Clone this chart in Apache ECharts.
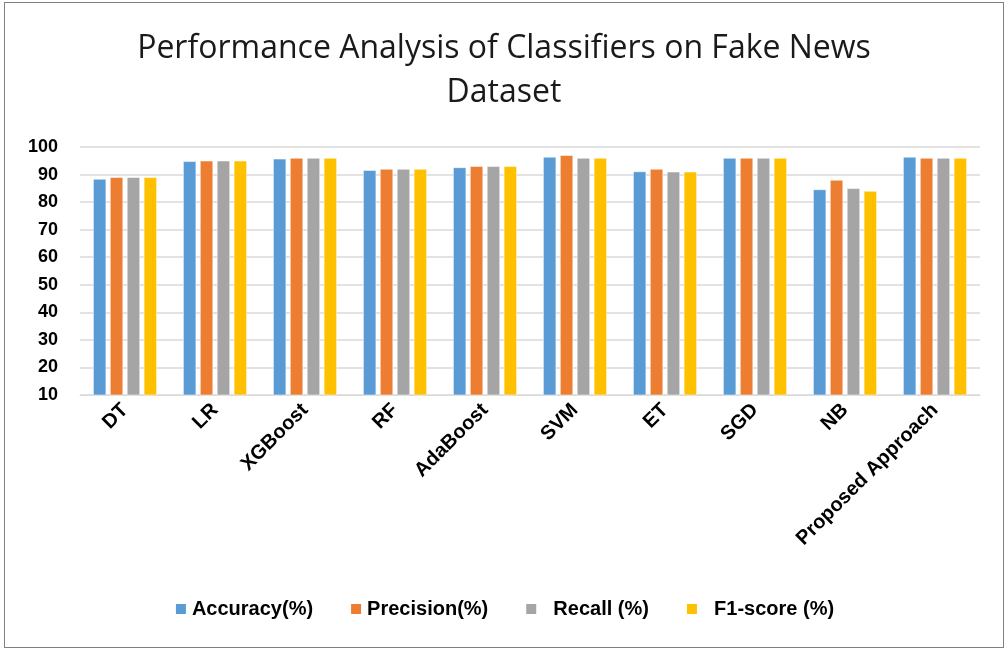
<!DOCTYPE html>
<html>
<head>
<meta charset="utf-8">
<script src="https://cdn.jsdelivr.net/npm/echarts@6/dist/echarts.min.js"></script>
<style>
  html, body { margin: 0; padding: 0; background: #fff; }
  #frame { position: absolute; left: 4px; top: 2px; width: 998px; height: 644px; border: 1px solid #7f7f7f; }
  #chart { width: 1008px; height: 650px; position: absolute; left: 0; top: 0; }
</style>
</head>
<body>
<div id="frame"></div>
<div id="chart"></div>
<script>
  var categories = ['DT', 'LR', 'XGBoost', 'RF', 'AdaBoost', 'SVM', 'ET', 'SGD', 'NB', 'Proposed Approach'];
  var accuracy  = [88.4, 94.8, 95.7, 91.6, 92.6, 96.4, 91.1, 96, 84.6, 96.4];
  var precision = [89, 95, 96, 92, 93, 97, 92, 96, 88, 96];
  var recall    = [89, 95, 96, 92, 93, 96, 91, 96, 85, 96];
  var f1score   = [89, 95, 96, 92, 93, 96, 91, 96, 84, 96];
  var yTicks = { min: 10, max: 100, step: 10 };

  var font = 'Liberation Sans, sans-serif';
  var chart = echarts.init(document.getElementById('chart'));

  function bar(name, data, color) {
    return {
      name: name,
      type: 'bar',
      data: data,
      barWidth: 13,
      barGap: '30%',
      itemStyle: { color: color, borderColor: '#fff', borderWidth: 0.5 }
    };
  }

  chart.setOption({
    animation: false,
    title: {
      text: 'Performance Analysis of Classifiers on Fake News\nDataset',
      left: 'center',
      top: 22,
      textStyle: { fontFamily: 'Open Sans', fontWeight: 'normal', fontSize: 32, color: '#1a1a1a', lineHeight: 44 }
    },
    legend: {
      bottom: 26,
      left: 'center',
      icon: 'rect',
      itemWidth: 12,
      itemHeight: 12,
      itemGap: 36,
      formatter: function (name) {
        return (name.indexOf('Recall') === 0 || name.indexOf('F1') === 0) ? '  ' + name : name;
      },
      textStyle: { fontFamily: font, fontWeight: 'bold', fontSize: 20, color: '#000' },
      data: ['Accuracy(%)', 'Precision(%)', 'Recall (%)', 'F1-score (%)']
    },
    grid: { left: 80, right: 28, top: 147, bottom: 255, containLabel: false },
    xAxis: {
      type: 'category',
      data: categories,
      axisLine: { lineStyle: { color: '#d9d9d9' } },
      axisTick: { show: false },
      axisLabel: {
        rotate: 45,
        interval: 0,
        margin: 12,
        fontFamily: font,
        fontWeight: 'bold',
        fontSize: 20,
        color: '#000'
      }
    },
    yAxis: {
      type: 'value',
      min: yTicks.min,
      max: yTicks.max,
      interval: yTicks.step,
      axisLine: { show: false },
      axisTick: { show: false },
      splitLine: { lineStyle: { color: '#d9d9d9', width: 1.5 } },
      axisLabel: { fontFamily: font, fontWeight: 'bold', fontSize: 18, color: '#000', margin: 22 }
    },
    series: [
      bar('Accuracy(%)', accuracy, '#5B9BD5'),
      bar('Precision(%)', precision, '#ED7D31'),
      bar('Recall (%)', recall, '#A5A5A5'),
      bar('F1-score (%)', f1score, '#FFC000')
    ]
  });
</script>
</body>
</html>
